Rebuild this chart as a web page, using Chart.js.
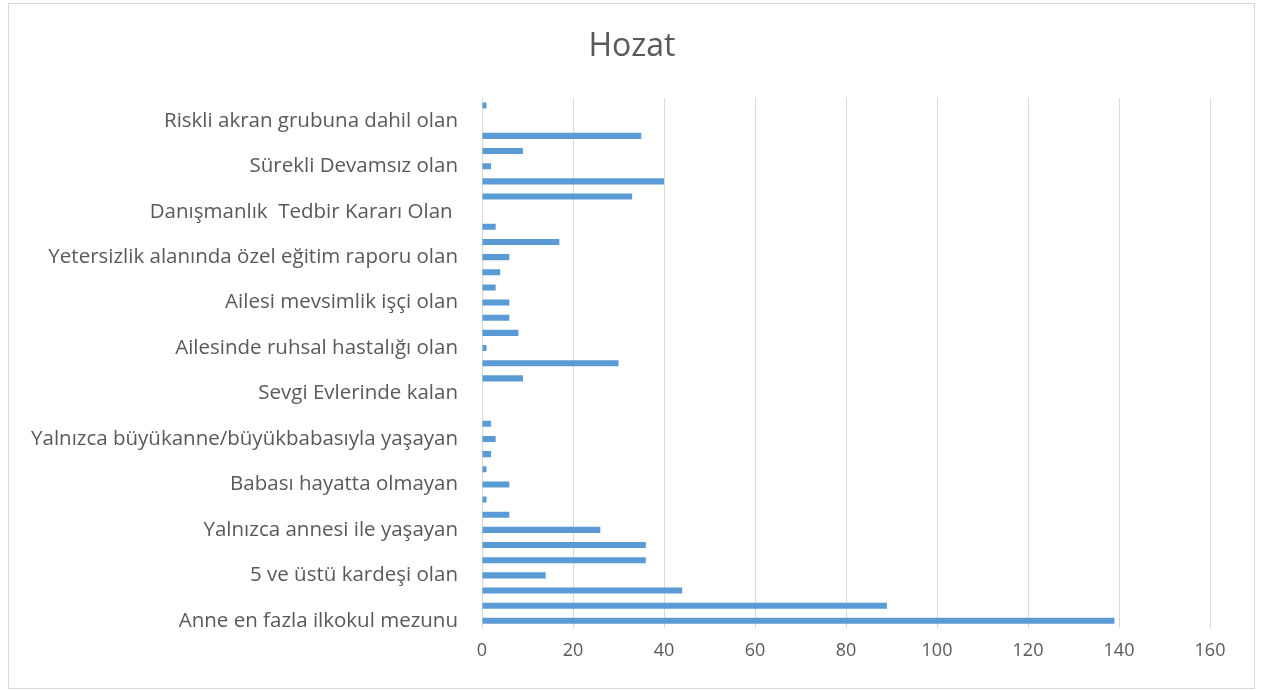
<!DOCTYPE html>
<html>
<head>
<meta charset="utf-8">
<script src="https://cdn.jsdelivr.net/npm/chart.js@4.4.0/dist/chart.umd.min.js"></script>
<style>
    body { margin: 0; background: #fff; }
    #frame { position: absolute; left: 8px; top: 3px; width: 1245px; height: 684px; border: 1px solid #d9d9d9; }
    #wrap { position: absolute; left: 0; top: 0; width: 1264px; height: 691px; }
</style>
</head>
<body>
<div id="frame"></div>
<div id="wrap"><canvas id="myChart"></canvas></div>
<script>
// Categories, bottom to top as in the original chart (only every third name is printed)
var categories = [
    'Anne en fazla ilkokul mezunu', '', '',
    '5 ve üstü kardeşi olan', '', '',
    'Yalnızca annesi ile yaşayan', '', '',
    'Babası hayatta olmayan', '', '',
    'Yalnızca büyükanne/büyükbabasıyla yaşayan', '', '',
    'Sevgi Evlerinde kalan', '', '',
    'Ailesinde ruhsal hastalığı olan', '', '',
    'Ailesi mevsimlik işçi olan', '', '',
    'Yetersizlik alanında özel eğitim raporu olan', '', '',
    'Danışmanlık  Tedbir Kararı Olan ', '', '',
    'Sürekli Devamsız olan', '', '',
    'Riskli akran grubuna dahil olan', ''
];

// Values, same order
var values = [
    139, 89, 44,
    14, 36, 36,
    26, 6, 1,
    6, 1, 2,
    3, 2, 0,
    0, 9, 30,
    1, 8, 6,
    6, 3, 4,
    6, 17, 3,
    0, 33, 40,
    2, 9, 35,
    0, 1
];

var xTicks = [0, 20, 40, 60, 80, 100, 120, 140, 160];
var chartTitle = 'Hozat';

var textColor = '#595959';
var gridColor = '#d9d9d9';
var fontName = "'Open Sans', sans-serif";

// title centred on the whole canvas, like the Excel chart
var centredTitle = {
    id: 'centredTitle',
    afterDraw: function (chart) {
        var c = chart.ctx;
        c.save();
        c.fillStyle = textColor;
        c.font = '32px ' + fontName;
        c.textAlign = 'center';
        c.textBaseline = 'middle';
        c.fillText(chartTitle, chart.width / 2, 47);
        c.restore();
    }
};

var ctx = document.getElementById('myChart').getContext('2d');
var myChart = new Chart(ctx, {
    type: 'bar',
    data: {
        labels: categories,
        datasets: [{
            data: values,
            backgroundColor: '#5b9bd5',
            borderWidth: 0,
            barPercentage: 0.4,
            categoryPercentage: 1
        }]
    },
    options: {
        indexAxis: 'y',
        responsive: true,
        maintainAspectRatio: false,
        animation: false,
        layout: {
            padding: { top: 98, right: 54, bottom: 17, left: 0 }
        },
        plugins: {
            legend: { display: false },
            tooltip: { enabled: false },
            title: { display: false }
        },
        scales: {
            x: {
                min: xTicks[0],
                max: xTicks[xTicks.length - 1],
                afterBuildTicks: function (scale) {
                    scale.ticks = xTicks.map(v => ({ value: v }));
                },
                grid: { color: gridColor, lineWidth: 1, drawTicks: false },
                border: { display: false },
                ticks: {
                    color: textColor,
                    font: { family: fontName, size: 18 },
                    padding: 12
                }
            },
            y: {
                reverse: true,
                grid: { display: false, drawTicks: false },
                border: { display: false },
                afterFit: function (scale) {
                    scale.width = 482;
                },
                ticks: {
                    autoSkip: false,
                    color: textColor,
                    font: { family: fontName, size: 20.5 },
                    padding: 24
                }
            }
        }
    },
    plugins: [centredTitle]
});
</script>
</body>
</html>
